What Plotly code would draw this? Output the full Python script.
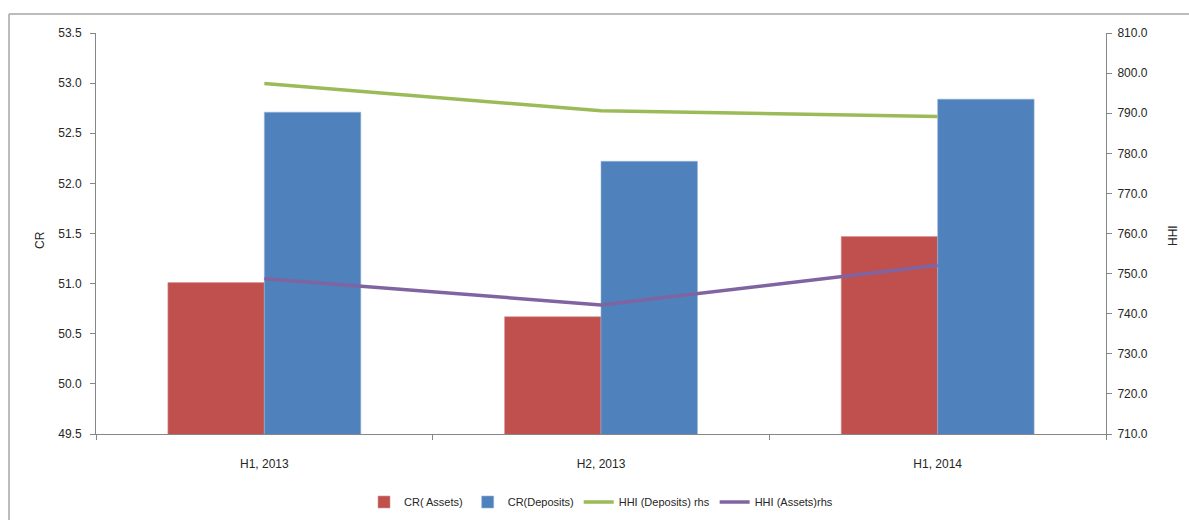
import plotly.graph_objects as go

categories = ["H1, 2013", "H2, 2013", "H1, 2014"]
cr_assets = [51.01, 50.67, 51.47]
cr_deposits = [52.71, 52.22, 52.84]
hhi_deposits = [797.4, 790.6, 789.2]
hhi_assets = [748.7, 742.2, 752.1]

left_ticks = [49.5, 50.0, 50.5, 51.0, 51.5, 52.0, 52.5, 53.0, 53.5]
right_ticks = [710, 720, 730, 740, 750, 760, 770, 780, 790, 800, 810]

FONT = "Liberation Sans, Arial, sans-serif"
AXIS_COLOR = "#868686"
TEXT_COLOR = "#262626"

fig = go.Figure()
fig.add_trace(go.Bar(x=categories, y=cr_assets, name="CR( Assets)",
                     marker=dict(color="#C0504D", line=dict(color="#D99694", width=0.6))))
fig.add_trace(go.Bar(x=categories, y=cr_deposits, name="CR(Deposits)",
                     marker=dict(color="#4F81BD", line=dict(color="#95B3D7", width=0.6))))
fig.add_trace(go.Scatter(x=categories, y=hhi_deposits, name="HHI (Deposits) rhs",
                         mode="lines", line=dict(color="#9BBB59", width=3.5), yaxis="y2"))
fig.add_trace(go.Scatter(x=categories, y=hhi_assets, name="HHI (Assets)rhs",
                         mode="lines", line=dict(color="#8064A2", width=3.5), yaxis="y2"))

L, R, T, B = 96, 1106, 33, 434
W, H = 1189, 520
pw, ph = R - L, B - T

def px(xp):
    return (xp - L) / pw

def py(yp):
    return (B - yp) / ph

fig.update_layout(
    width=W, height=H,
    margin=dict(l=L, r=W - R, t=T, b=H - B, autoexpand=False),
    paper_bgcolor="white", plot_bgcolor="white",
    font=dict(family=FONT, size=12, color=TEXT_COLOR),
    barmode="group", bargap=0.427, bargroupgap=0,
    showlegend=True,
    legend=dict(orientation="h", x=0.5, xanchor="center",
                yref="container", y=1 - 502 / H, yanchor="middle",
                font=dict(size=11, family=FONT, color=TEXT_COLOR),
                itemwidth=30, tracegroupgap=0, bgcolor="rgba(0,0,0,0)"),
    xaxis=dict(type="category", showline=True, linecolor=AXIS_COLOR, linewidth=1,
               ticks="outside", tickson="boundaries", ticklen=5, tickcolor=AXIS_COLOR,
               showgrid=False, tickfont=dict(size=12), range=[-0.5, 2.5],
               ticklabelstandoff=19, automargin=False),
    yaxis=dict(range=[49.5, 53.5], tickvals=left_ticks,
               ticktext=[f"{v:.1f}" for v in left_ticks],
               showline=True, linecolor=AXIS_COLOR, linewidth=1,
               ticks="outside", ticklen=5, tickcolor=AXIS_COLOR,
               showgrid=False, zeroline=False, tickfont=dict(size=12),
               ticklabelstandoff=6, automargin=False),
    yaxis2=dict(range=[710, 810], tickvals=right_ticks,
                ticktext=[f"{v:.1f}" for v in right_ticks],
                overlaying="y", side="right",
                showline=True, linecolor=AXIS_COLOR, linewidth=1,
                ticks="outside", ticklen=5, tickcolor=AXIS_COLOR,
                showgrid=False, zeroline=False, tickfont=dict(size=12),
                ticklabelstandoff=3, automargin=False),
    annotations=[
        dict(text="CR", xref="paper", yref="paper", x=px(40), y=py(240),
             showarrow=False, textangle=-90, font=dict(size=12, family=FONT, color=TEXT_COLOR),
             xanchor="center", yanchor="middle"),
        dict(text="HHI", xref="paper", yref="paper", x=px(1173), y=py(236),
             showarrow=False, textangle=-90, font=dict(size=12, family=FONT, color=TEXT_COLOR),
             xanchor="center", yanchor="middle"),
    ],
    shapes=[
        dict(type="line", xref="paper", yref="paper", x0=px(9), x1=px(1200),
             y0=py(14), y1=py(14), line=dict(color="#A6A6A6", width=1.5)),
        dict(type="line", xref="paper", yref="paper", x0=px(9), x1=px(9),
             y0=py(14), y1=py(530), line=dict(color="#A6A6A6", width=1.5)),
    ],
)

fig.write_html("out.html")
